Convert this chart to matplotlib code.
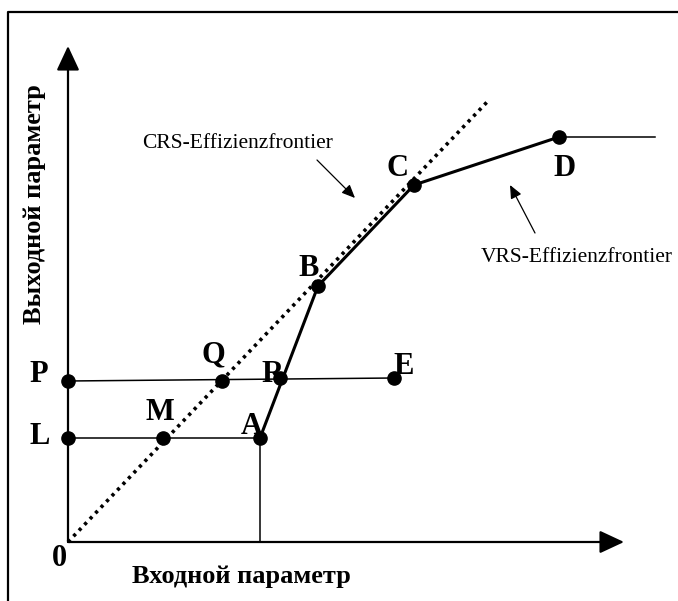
import matplotlib
matplotlib.use("Agg")
import matplotlib.pyplot as plt

# points (origin of the diagram at 0,0)
pts = {
    "L": (0, 104), "M": (95, 104), "A": (192, 104),
    "P": (0, 161), "Q": (154, 161), "R": (212, 164), "E": (326, 164),
    "B": (250, 256), "C": (346, 357), "D": (491, 405),
}
# label positions for the letters
lbl = {
    "L": (-28, 106), "M": (92, 130), "A": (184, 116),
    "P": (-29, 167), "Q": (145, 187), "R": (204, 167), "E": (336, 175),
    "B": (241, 274), "C": (329, 374), "D": (497, 374),
}
vrs_x = [192, 250, 346, 491, 587]
vrs_y = [104, 256, 357, 405, 405]
crs_x = [0, 420]
crs_y = [0, 441]

fig = plt.figure(figsize=(6.78, 6.01), dpi=100)
ax = fig.add_axes([0, 0, 1, 1])
ax.set_xlim(-68, 610)
ax.set_ylim(-59, 542)
ax.axis("off")

serif = "Liberation Serif"

# frame
ax.plot([-60, -60, 620], [-70, 530, 530], color="black", lw=1.6, clip_on=False)

# axes with arrows
ax.annotate("", xy=(0, 496), xytext=(0, 0),
            arrowprops=dict(arrowstyle="-|>,head_length=1.5,head_width=0.7", color="black", lw=1.6,
                            shrinkA=0, shrinkB=0))
ax.annotate("", xy=(556, 0), xytext=(0, 0),
            arrowprops=dict(arrowstyle="-|>,head_length=1.5,head_width=0.7", color="black", lw=1.6,
                            shrinkA=0, shrinkB=0))

# CRS frontier (dotted)
ax.plot(crs_x, crs_y, color="black", lw=2.6, ls=(0, (0.9, 1.3)))

# helper lines
ax.plot([pts["P"][0], pts["E"][0]], [pts["P"][1], pts["E"][1]], color="black", lw=1.1)
ax.plot([pts["L"][0], pts["A"][0]], [pts["L"][1], pts["A"][1]], color="black", lw=1.1)
ax.plot([pts["A"][0], pts["A"][0]], [0, pts["A"][1]], color="black", lw=1.1)
ax.plot(vrs_x[-2:], vrs_y[-2:], color="black", lw=1.1)

# VRS frontier
ax.plot(vrs_x[:-1], vrs_y[:-1], color="black", lw=2.2)

for k, (x, y) in pts.items():
    ax.plot(x, y, "o", color="black", ms=9.5)
    tx, ty = lbl[k]
    ax.text(tx, ty, k, family=serif, fontweight="bold", fontsize=22, ha="center", va="center")

ax.text(-9, -16, "0", family=serif, fontweight="bold", fontsize=22, ha="center", va="center")

ax.text(173, -35, "Входной параметр", family=serif, fontweight="bold", fontsize=19,
        ha="center", va="center")
ax.text(-33, 338, "Выходной параметр", family=serif, fontweight="bold", fontsize=19,
        ha="center", va="center", rotation=90)

ax.text(170, 399, "CRS-Effizienzfrontier", family=serif, fontsize=15.5, ha="center", va="center")
ax.text(509, 285, "VRS-Effizienzfrontier", family=serif, fontsize=15.5, ha="center", va="center")

ax.annotate("", xy=(287, 344), xytext=(249, 382),
            arrowprops=dict(arrowstyle="-|>,head_length=0.8,head_width=0.35", color="black", lw=0.9,
                            shrinkA=0, shrinkB=0))
ax.annotate("", xy=(442, 357), xytext=(467, 309),
            arrowprops=dict(arrowstyle="-|>,head_length=0.8,head_width=0.35", color="black", lw=0.9,
                            shrinkA=0, shrinkB=0))

fig.savefig("out.png", dpi=100)
